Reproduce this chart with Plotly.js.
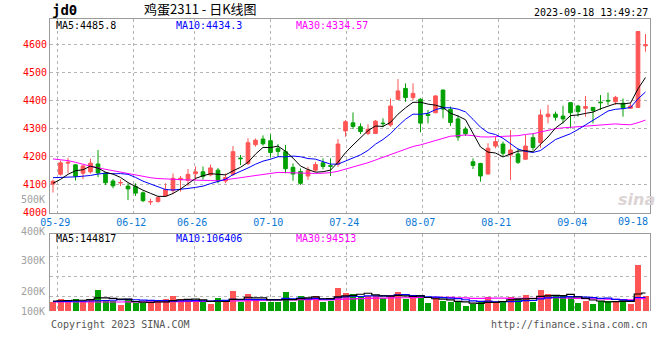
<!DOCTYPE html>
<html><head><meta charset="utf-8">
<script src="https://cdn.plot.ly/plotly-3.0.1.min.js"></script>
<style>html,body{margin:0;padding:0;background:#fff;}#chart{width:660px;height:360px;}</style>
</head><body><div id="chart"></div>
<script>
// ---- data (index 0 = 05-26 ... index 79 = 09-18) ----
const openP = [4102,4137,4177,4171,4141,4146,4174,4142,4113,4106,
 4095,4094,4071,4038,4040,4060,4079,4118,4116,4139,
 4146,4135,4152,4113,4137,4195,4176,4243,4263,4257,
 4230,4218,4162,4147,4131,4152,4178,4168,4173,4292,
 4321,4307,4283,4283,4320,4313,4405,4444,4411,4405,
 4352,4357,4438,4369,4335,4299,4182,4176,4138,4238,
 4245,4206,4210,4191,4268,4250,4343,4352,4345,4393,
 4381,4373,4376,4395,4401,4396,4391,4373,4376,4596];
const highP = [4118,4186,4196,4174,4170,4193,4224,4146,4120,4119,
 4105,4105,4076,4050,4058,4105,4140,4131,4156,4165,
 4165,4172,4160,4140,4238,4206,4266,4265,4276,4280,
 4245,4242,4176,4158,4164,4182,4194,4194,4263,4331,
 4358,4319,4316,4331,4337,4408,4477,4462,4462,4409,
 4367,4420,4440,4379,4349,4307,4194,4178,4248,4271,
 4254,4295,4230,4277,4283,4369,4385,4361,4382,4394,
 4385,4417,4377,4420,4429,4417,4408,4391,4648,4638];
const lowP = [4072,4132,4141,4115,4120,4140,4127,4099,4087,4095,
 4045,4060,4038,4027,4036,4057,4070,4075,4095,4115,
 4118,4130,4105,4105,4131,4170,4170,4236,4240,4198,
 4200,4141,4114,4099,4117,4146,4155,4131,4164,4271,
 4299,4281,4277,4281,4305,4307,4402,4396,4402,4287,
 4319,4355,4337,4310,4257,4274,4156,4111,4136,4230,
 4202,4117,4174,4188,4222,4232,4319,4329,4319,4301,
 4343,4343,4319,4367,4385,4385,4343,4372,4375,4575];
const closeP = [4112,4178,4180,4130,4167,4177,4142,4107,4096,4108,
 4085,4070,4043,4040,4054,4083,4123,4123,4137,4146,
 4130,4160,4113,4126,4218,4193,4250,4259,4246,4215,
 4219,4157,4138,4105,4152,4172,4165,4166,4245,4325,
 4308,4290,4298,4327,4318,4381,4435,4411,4426,4320,
 4347,4417,4370,4322,4270,4282,4169,4131,4230,4254,
 4212,4224,4180,4238,4233,4349,4352,4341,4335,4357,
 4361,4379,4365,4393,4399,4412,4374,4381,4647,4600];
const volume = [75000,96000,86000,96000,77000,96000,167000,86000,80000,48000,
 96000,66000,62000,69000,69000,96000,120000,96000,86000,75000,
 69000,56000,104000,75000,160000,75000,136000,80000,75000,75000,
 75000,152000,75000,120000,104000,117000,75000,78000,187000,146000,
 136000,122000,120000,120000,107000,128000,152000,96000,101000,128000,
 63000,101000,80000,69000,69000,42000,53000,69000,114000,69000,
 75000,114000,101000,128000,75000,167000,136000,120000,120000,120000,
 63000,80000,56000,80000,80000,75000,96000,56000,372000,122000];
// moving-average values before a full window exists
const ma5Head = [4105,4119,4137,4150];
const ma10Head = [4125,4125,4127,4128,4130,4133,4138,4141,4139];
const ma30Head = [4192,4190,4186,4180,4172,4166,4160,4155,4150,4145,
 4140,4134,4129,4125,4122,4120,4119,4118,4117,4117,
 4116,4115,4114,4117,4121,4125,4129,4133,4137];
const vma5Head = [80000,82000,84000,86000];
const vma10Head = [76000,76000,77000,78000,79000,80000,82000,84000,86000];
const vma30Head = [72000,72000,72000,72000,72000,72000,72000,72000,72000,72000,
 73000,73000,73000,73000,74000,74000,75000,75000,76000,76000,
 77000,77000,78000,79000,80000,81000,82000,84000,86000];
// tick labels
const dateLabels = ['05-29','06-12','06-26','07-10','07-24','08-07','08-21','09-04','09-18'];
const dateIdx = [1,11,19,29,39,49,59,69,79];
const priceTicks = [4000,4100,4200,4300,4400,4500,4600,4700];
const volAxisLabels = ['500K','400K','300K','200K','100K'];
const legendMain = ['MA5:4485.8','MA10:4434.3','MA30:4334.57'];
const legendVol = ['MA5:144817','MA10:106406','MA30:94513'];
const codeText = 'jd0';
const titleText = '鸡蛋2311 - 日K线图';
const timeText = '2023-09-18 13:49:27';
const copyText = 'Copyright 2023 SINA.COM';
const urlText = 'http://finance.sina.com.cn';
const markText = 'sina';

// ---- styling / layout ----
const RED = '#ff5555', GREEN = '#00a000';
const MONO = 'DejaVu Sans Mono';
const GRID = '#b4b4b4', BORDER = '#9a9a9a';
const xIdx = closeP.map((_, i) => i);

function movingAvg(src, n, head) {
  return src.map((_, i) => {
    if (i < n - 1) return head[i];
    let s = 0;
    for (let k = i - n + 1; k <= i; k++) s += src[k];
    return s / n;
  });
}

const volColors = closeP.map((c, i) => (c >= openP[i] ? RED : GREEN));
const gridIdx = dateIdx.slice(0, 8);
const gridPos = gridIdx.map(i => i * 1.0137 - 0.44);

const traces = [
  {type: 'candlestick', x: xIdx, open: openP, high: highP, low: lowP, close: closeP,
   xaxis: 'x', yaxis: 'y', hoverinfo: 'skip', showlegend: false, whiskerwidth: 0,
   increasing: {line: {color: RED, width: 1}, fillcolor: RED},
   decreasing: {line: {color: GREEN, width: 1}, fillcolor: GREEN}},
  {type: 'scatter', mode: 'lines', x: xIdx, y: movingAvg(closeP, 30, ma30Head), xaxis: 'x', yaxis: 'y',
   line: {color: '#ff00ff', width: 1}, hoverinfo: 'skip'},
  {type: 'scatter', mode: 'lines', x: xIdx, y: movingAvg(closeP, 10, ma10Head), xaxis: 'x', yaxis: 'y',
   line: {color: '#0000ff', width: 1}, hoverinfo: 'skip'},
  {type: 'scatter', mode: 'lines', x: xIdx, y: movingAvg(closeP, 5, ma5Head), xaxis: 'x', yaxis: 'y',
   line: {color: '#000000', width: 1}, hoverinfo: 'skip'},
  {type: 'bar', x: xIdx, y: volume, xaxis: 'x2', yaxis: 'y2', width: 0.8,
   marker: {color: volColors, line: {width: 0}}, hoverinfo: 'skip'},
  {type: 'scatter', mode: 'lines', x: xIdx, y: movingAvg(volume, 30, vma30Head), xaxis: 'x2', yaxis: 'y2',
   line: {color: '#ff00ff', width: 1.2, shape: 'hvh'}, hoverinfo: 'skip'},
  {type: 'scatter', mode: 'lines', x: xIdx, y: movingAvg(volume, 10, vma10Head), xaxis: 'x2', yaxis: 'y2',
   line: {color: '#0000ff', width: 1.2, shape: 'hvh'}, hoverinfo: 'skip'},
  {type: 'scatter', mode: 'lines', x: xIdx, y: movingAvg(volume, 5, vma5Head), xaxis: 'x2', yaxis: 'y2',
   line: {color: '#000000', width: 1.2, shape: 'hvh'}, hoverinfo: 'skip'}
];

const PX = px => (px - 50) / 600;      // pixel x -> paper
const PY = py => (311 - py) / 292;     // pixel y -> paper
const monoFont = (size, color) => ({family: MONO, size: size, color: color});

const annotations = [];
function ann(text, x, y, xanchor, font, yanchor) {
  annotations.push({text: text, xref: 'paper', yref: 'paper', x: x, y: y,
    xanchor: xanchor, yanchor: yanchor || 'middle', showarrow: false, font: font, borderpad: 0});
}
// header (boxes end above the plot's top edge)
ann('<b>' + codeText + '</b>', PX(51), PY(18.6), 'left', monoFont(14, '#000'), 'bottom');
ann(titleText, PX(200), PY(18.6), 'center', {family: 'Noto Sans CJK SC', size: 13, color: '#000'}, 'bottom');
ann(timeText, PX(649), PY(18.6), 'right', monoFont(10, '#000'), 'bottom');
// top price label above the plot
annotations.push({text: String(priceTicks[7]), xref: 'paper', x: 0, xanchor: 'right', xshift: -4,
  yref: 'y', y: priceTicks[7], yanchor: 'middle', showarrow: false, borderpad: 0, font: monoFont(10, '#ff0000')});
// MA legends
const legX = [55, 175, 295], legC = ['#000000', '#0000ff', '#ff00ff'];
legendMain.forEach((t, i) => ann(t, PX(legX[i]), PY(19.2), 'left', monoFont(10, legC[i]), 'top'));
legendVol.forEach((t, i) => ann(t, PX(legX[i]), PY(238.5), 'left', monoFont(10, legC[i])));
// volume axis labels
const volLabelPx = [200, 231, 260, 291, 311];
volAxisLabels.forEach((t, i) => ann(t, PX(46), PY(volLabelPx[i]), 'right', monoFont(10, '#a0a0a0')));
// last date label, clamped to the right edge
ann(dateLabels[8], PX(649), PY(221.5), 'right', monoFont(10, '#0a78d4'));
// footer
ann(copyText, PX(50), PY(324), 'left', monoFont(10, '#555'));
ann(urlText, PX(649), PY(324), 'right', monoFont(10, '#555'));
// watermark
ann('<b><i>' + markText + '</i></b>', PX(636), PY(199), 'center', {family: 'DejaVu Sans', size: 16, color: '#dcd4d4'});

const gridAxis = {showgrid: true, gridcolor: GRID, griddash: 'dot', gridwidth: 1, zeroline: false, ticks: ''};

const layout = {
  width: 660, height: 360, margin: {l: 50, r: 10, t: 19, b: 49},
  paper_bgcolor: '#fff', plot_bgcolor: '#fff', showlegend: false, hovermode: false,
  boxgap: 0.3, bargap: 0,
  xaxis: Object.assign({}, gridAxis, {domain: [0, 1], anchor: 'y', range: [-0.4, 79.6],
    tickmode: 'array', tickvals: gridPos, ticktext: dateLabels.slice(0, 8),
    tickfont: monoFont(10, '#0a78d4'), ticklabelshift: -2,
    showline: true, mirror: true, linecolor: BORDER, linewidth: 1,
    rangeslider: {visible: false}, fixedrange: true}),
  yaxis: Object.assign({}, gridAxis, {domain: [PY(212.7), 1], anchor: 'x', range: [4000, 4691.8],
    tickmode: 'array', tickvals: priceTicks.slice(0, 7), ticktext: priceTicks.slice(0, 7).map(String),
    tickfont: monoFont(10, '#ff0000'), showline: true, mirror: true, linecolor: BORDER, linewidth: 1}),
  xaxis2: Object.assign({}, gridAxis, {domain: [0, 1], anchor: 'y2', range: [-0.4, 79.6],
    tickmode: 'array', tickvals: gridPos, showticklabels: false, side: 'top',
    showline: true, mirror: false, linecolor: BORDER, linewidth: 1}),
  yaxis2: Object.assign({}, gridAxis, {domain: [0, PY(234.3)], anchor: 'x2', range: [0, 613600],
    tickmode: 'array', tickvals: [120000, 280000, 440000], showticklabels: false,
    showline: true, mirror: true, linecolor: BORDER, linewidth: 1}),
  annotations: annotations
};

Plotly.newPlot('chart', traces, layout, {staticPlot: true, displayModeBar: false});
</script>
</body></html>
